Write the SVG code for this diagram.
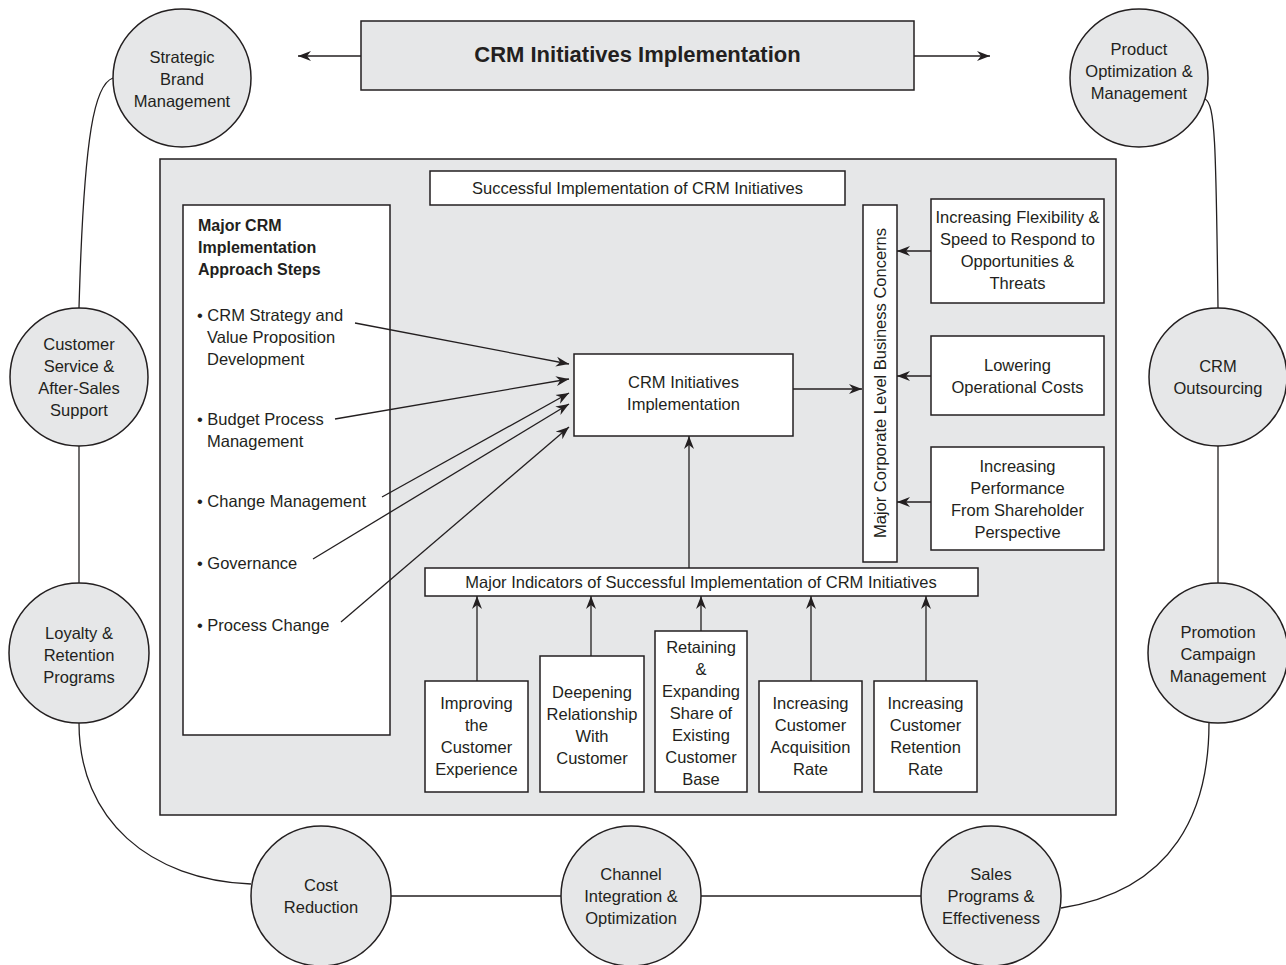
<svg xmlns="http://www.w3.org/2000/svg" width="1286" height="965" viewBox="0 0 1286 965">
<defs>
<marker id="ah" viewBox="-13 -6 14 12" refX="0" refY="0" markerWidth="14" markerHeight="12" markerUnits="userSpaceOnUse" orient="auto">
<path d="M0,0 L-13,-5 L-9,0 L-13,5 Z" fill="#231f20"/>
</marker>
<style>
.t{font-family:"Liberation Sans",Arial,sans-serif;font-size:16.5px;fill:#231f20}
.c{text-anchor:middle}
.b{font-weight:bold}
.g{fill:#e6e7e8;stroke:#231f20;stroke-width:1.5}
.w{fill:#fff;stroke:#231f20;stroke-width:1.5}
.ln{fill:none;stroke:#231f20;stroke-width:1.3}
.ar{fill:none;stroke:#231f20;stroke-width:1.3;marker-end:url(#ah)}
</style>
</defs>
<rect width="1286" height="965" fill="#fff"/>

<g id="panel"><rect class="g" x="160" y="159" width="956" height="656"/></g>

<g id="title">
<rect class="g" x="361" y="21" width="553" height="69"/>
<text class="t c b" x="637.5" y="62" style="font-size:22px">CRM Initiatives Implementation</text>
</g>

<g id="successful">
<rect class="w" x="430" y="171" width="415" height="34"/>
<text class="t c" x="637.5" y="194">Successful Implementation of CRM Initiatives</text>
</g>

<g id="approach">
<rect class="w" x="183" y="205" width="207" height="530"/>
<text class="t b" x="198" y="231" style="font-size:16px">Major CRM</text>
<text class="t b" x="198" y="253" style="font-size:16px">Implementation</text>
<text class="t b" x="198" y="275" style="font-size:16px">Approach Steps</text>
<text class="t" x="197" y="321">• CRM Strategy and</text>
<text class="t" x="207" y="343">Value Proposition</text>
<text class="t" x="207" y="365">Development</text>
<text class="t" x="197" y="425">• Budget Process</text>
<text class="t" x="207" y="447">Management</text>
<text class="t" x="197" y="507">• Change Management</text>
<text class="t" x="197" y="569">• Governance</text>
<text class="t" x="197" y="631">• Process Change</text>
</g>

<g id="center">
<rect class="w" x="574" y="354" width="219" height="82"/>
<text class="t c" x="683.5" y="388">CRM Initiatives</text>
<text class="t c" x="683.5" y="410">Implementation</text>
</g>

<g id="concerns">
<rect class="w" x="863" y="205" width="34" height="357"/>
<text class="t c" transform="translate(886,383) rotate(-90)">Major Corporate Level Business Concerns</text>
</g>

<g id="flexibility">
<rect class="w" x="931" y="199" width="173" height="104"/>
<text class="t c" x="1017.5" y="223">Increasing Flexibility &amp;</text>
<text class="t c" x="1017.5" y="245">Speed to Respond to</text>
<text class="t c" x="1017.5" y="267">Opportunities &amp;</text>
<text class="t c" x="1017.5" y="289">Threats</text>
</g>

<g id="lowering">
<rect class="w" x="931" y="336" width="173" height="79"/>
<text class="t c" x="1017.5" y="371">Lowering</text>
<text class="t c" x="1017.5" y="393">Operational Costs</text>
</g>

<g id="performance">
<rect class="w" x="931" y="447" width="173" height="103"/>
<text class="t c" x="1017.5" y="472">Increasing</text>
<text class="t c" x="1017.5" y="494">Performance</text>
<text class="t c" x="1017.5" y="516">From Shareholder</text>
<text class="t c" x="1017.5" y="538">Perspective</text>
</g>

<g id="indicators">
<rect class="w" x="425" y="568" width="553" height="28"/>
<text class="t c" x="701" y="588">Major Indicators of Successful Implementation of CRM Initiatives</text>
</g>

<g id="ind-experience">
<rect class="w" x="425" y="681" width="103" height="111"/>
<text class="t c" x="476.5" y="709">Improving</text>
<text class="t c" x="476.5" y="731">the</text>
<text class="t c" x="476.5" y="753">Customer</text>
<text class="t c" x="476.5" y="775">Experience</text>
</g>

<g id="ind-relationship">
<rect class="w" x="540" y="656" width="104" height="136"/>
<text class="t c" x="592" y="698">Deepening</text>
<text class="t c" x="592" y="720">Relationship</text>
<text class="t c" x="592" y="742">With</text>
<text class="t c" x="592" y="764">Customer</text>
</g>

<g id="ind-share">
<rect class="w" x="655" y="631" width="92" height="161"/>
<text class="t c" x="701" y="653">Retaining</text>
<text class="t c" x="701" y="675">&amp;</text>
<text class="t c" x="701" y="697">Expanding</text>
<text class="t c" x="701" y="719">Share of</text>
<text class="t c" x="701" y="741">Existing</text>
<text class="t c" x="701" y="763">Customer</text>
<text class="t c" x="701" y="785">Base</text>
</g>

<g id="ind-acquisition">
<rect class="w" x="759" y="681" width="103" height="111"/>
<text class="t c" x="810.5" y="709">Increasing</text>
<text class="t c" x="810.5" y="731">Customer</text>
<text class="t c" x="810.5" y="753">Acquisition</text>
<text class="t c" x="810.5" y="775">Rate</text>
</g>

<g id="ind-retention">
<rect class="w" x="874" y="681" width="103" height="111"/>
<text class="t c" x="925.5" y="709">Increasing</text>
<text class="t c" x="925.5" y="731">Customer</text>
<text class="t c" x="925.5" y="753">Retention</text>
<text class="t c" x="925.5" y="775">Rate</text>
</g>

<g id="c-brand">
<circle class="g" cx="182" cy="78" r="69"/>
<text class="t c" x="182" y="63">Strategic</text>
<text class="t c" x="182" y="85">Brand</text>
<text class="t c" x="182" y="107">Management</text>
</g>

<g id="c-product">
<circle class="g" cx="1139" cy="78" r="69"/>
<text class="t c" x="1139" y="55">Product</text>
<text class="t c" x="1139" y="77">Optimization &amp;</text>
<text class="t c" x="1139" y="99">Management</text>
</g>

<g id="c-service">
<circle class="g" cx="79" cy="377" r="69"/>
<text class="t c" x="79" y="350">Customer</text>
<text class="t c" x="79" y="372">Service &amp;</text>
<text class="t c" x="79" y="394">After-Sales</text>
<text class="t c" x="79" y="416">Support</text>
</g>

<g id="c-loyalty">
<circle class="g" cx="79" cy="653" r="70"/>
<text class="t c" x="79" y="639">Loyalty &amp;</text>
<text class="t c" x="79" y="661">Retention</text>
<text class="t c" x="79" y="683">Programs</text>
</g>

<g id="c-outsourcing">
<circle class="g" cx="1218" cy="377" r="69"/>
<text class="t c" x="1218" y="372">CRM</text>
<text class="t c" x="1218" y="394">Outsourcing</text>
</g>

<g id="c-promotion">
<circle class="g" cx="1218" cy="653" r="70"/>
<text class="t c" x="1218" y="638">Promotion</text>
<text class="t c" x="1218" y="660">Campaign</text>
<text class="t c" x="1218" y="682">Management</text>
</g>

<g id="c-cost">
<circle class="g" cx="321" cy="896" r="70"/>
<text class="t c" x="321" y="891">Cost</text>
<text class="t c" x="321" y="913">Reduction</text>
</g>

<g id="c-channel">
<circle class="g" cx="631" cy="896" r="70"/>
<text class="t c" x="631" y="880">Channel</text>
<text class="t c" x="631" y="902">Integration &amp;</text>
<text class="t c" x="631" y="924">Optimization</text>
</g>

<g id="c-sales">
<circle class="g" cx="991" cy="896" r="70"/>
<text class="t c" x="991" y="880">Sales</text>
<text class="t c" x="991" y="902">Programs &amp;</text>
<text class="t c" x="991" y="924">Effectiveness</text>
</g>

<g id="connectors">
<line class="ar" x1="361" y1="56" x2="298" y2="56"/>
<line class="ar" x1="914" y1="56" x2="990" y2="56"/>
<line class="ar" x1="355" y1="323" x2="569" y2="364"/>
<line class="ar" x1="335" y1="419" x2="569" y2="379"/>
<line class="ar" x1="382" y1="497" x2="569" y2="393"/>
<line class="ar" x1="313" y1="559" x2="569" y2="404"/>
<line class="ar" x1="341" y1="622" x2="569" y2="427"/>
<line class="ar" x1="793" y1="389" x2="862" y2="389"/>
<line class="ar" x1="931" y1="251" x2="897" y2="251"/>
<line class="ar" x1="931" y1="376" x2="897" y2="376"/>
<line class="ar" x1="931" y1="502" x2="897" y2="502"/>
<line class="ar" x1="689" y1="568" x2="689" y2="436"/>
<line class="ar" x1="477" y1="681" x2="477" y2="596"/>
<line class="ar" x1="591" y1="656" x2="591" y2="596"/>
<line class="ar" x1="701" y1="631" x2="701" y2="596"/>
<line class="ar" x1="811" y1="681" x2="811" y2="596"/>
<line class="ar" x1="926" y1="681" x2="926" y2="596"/>
<path class="ln" d="M113,78 C95,84 84,130 79,308"/>
<line class="ln" x1="79" y1="446" x2="79" y2="583"/>
<path class="ln" d="M79,723 C79,820 150,880 251,884"/>
<line class="ln" x1="391" y1="896" x2="561" y2="896"/>
<line class="ln" x1="701" y1="896" x2="921" y2="896"/>
<path class="ln" d="M1061,908 C1175,890 1209,810 1209,723"/>
<line class="ln" x1="1218" y1="446" x2="1218" y2="583"/>
<path class="ln" d="M1205,99 C1215,104 1216,140 1218,308"/>
</g>
</svg>
